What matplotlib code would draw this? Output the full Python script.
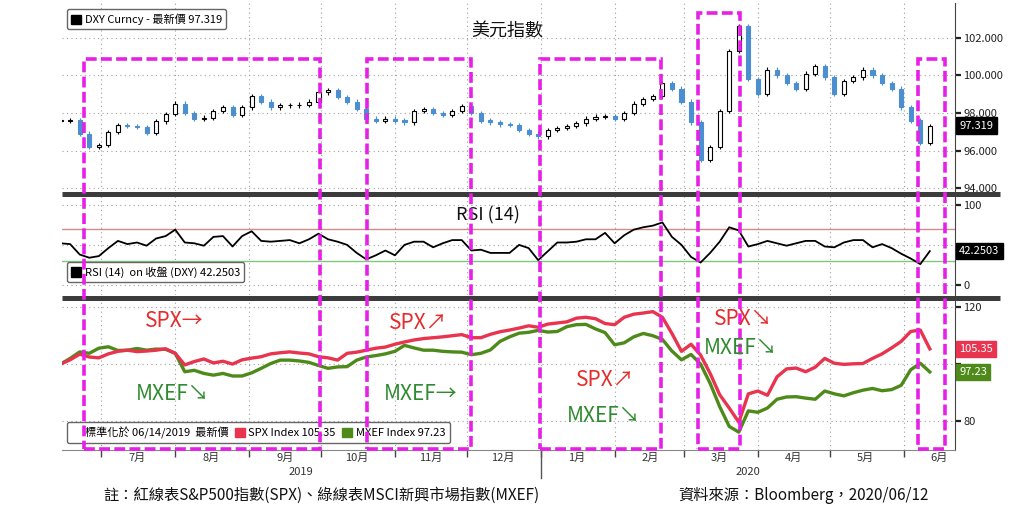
import numpy as np
import pandas as pd
import matplotlib
matplotlib.use('Agg')
import matplotlib.pyplot as plt
import matplotlib.dates as mdates
import matplotlib.ticker as mticker
from matplotlib.patches import Rectangle, Patch
from matplotlib.lines import Line2D

plt.rcParams['font.family'] = ['Noto Sans CJK TC', 'DejaVu Sans']

# ---------------- data ----------------
dates = pd.date_range('2019-06-14', '2020-06-12', freq='4D')

dxy_close = [97.6, 97.6, 96.9, 96.2, 96.3, 97.0, 97.35, 97.3, 97.25, 96.95,
             97.55, 97.95, 98.5, 98.0, 97.7, 97.75, 98.1, 98.3, 97.9, 98.3,
             98.9, 98.6, 98.3, 98.4, 98.4, 98.45, 98.6, 99.1, 99.2, 98.85,
             98.6, 98.2, 97.7, 97.6, 97.7, 97.6, 97.5, 98.1, 98.2, 98.0,
             97.9, 98.1, 98.35, 98.0, 97.6, 97.5, 97.4, 97.35, 97.1, 96.9,
             96.75, 97.1, 97.2, 97.3, 97.45, 97.7, 97.8, 97.85, 97.7, 98.0,
             98.5, 98.75, 98.9, 99.6, 99.3, 98.6, 97.5, 95.5, 96.2, 98.1,
             101.3, 102.6, 99.8, 99.0, 100.3, 100.0, 99.6, 99.3, 100.1, 100.5,
             99.9, 99.0, 99.7, 99.9, 100.3, 100.0, 99.6, 99.3, 98.3, 97.6,
             96.4, 97.32]

rsi_values = [52, 51, 38, 34, 36, 46, 55, 51, 53, 49,
              58, 61, 69, 53, 52, 49, 60, 61, 48, 61,
              67, 55, 54, 55, 56, 52, 57, 64, 57, 54,
              50, 40, 32, 37, 43, 37, 50, 54, 54, 47,
              52, 56, 56, 43, 44, 40, 40, 40, 50, 46,
              31, 42, 53, 53, 54, 57, 57, 65, 52, 62,
              69, 72, 74, 78, 60, 50, 35, 28, 40, 54,
              72, 68, 48, 51, 55, 52, 49, 52, 55, 55,
              48, 47, 53, 56, 56, 47, 51, 46, 39, 33,
              26, 42.25]

spx_values = [100.0, 101.5, 103.5, 102.5, 102.2, 103.6, 104.5, 104.9, 104.4, 104.6,
              104.9, 105.4, 103.8, 99.7, 100.9, 101.8, 100.4, 101.0, 100.0, 101.5,
              102.1, 102.6, 103.6, 104.0, 104.3, 103.9, 103.6, 102.6, 102.2, 101.4,
              103.8, 104.2, 104.9, 105.6, 106.0, 107.0, 107.8, 108.5, 109.0, 109.3,
              109.6, 110.0, 110.4, 109.3, 109.3, 110.5, 111.4, 112.0, 112.7, 113.5,
              113.0, 114.1, 114.5, 114.9, 116.2, 116.5, 116.0, 114.3, 113.9, 116.5,
              117.6, 118.0, 118.5, 116.5, 110.8, 104.5, 107.0, 103.2, 96.7, 89.2,
              84.5, 79.5, 89.5, 90.5, 89.0, 95.5, 98.3, 98.6, 97.3, 98.9,
              102.0, 100.3, 99.9, 100.1, 100.2, 102.0, 103.6, 105.7, 108.0, 111.5,
              112.0, 105.35]

mxef_values = [100.0, 102.0, 104.3, 103.8, 105.6, 106.1, 104.8, 104.9, 105.5, 104.9,
               105.3, 105.2, 103.8, 97.3, 97.8, 96.7, 96.1, 96.7, 95.8, 95.8,
               96.9, 98.5, 100.2, 101.4, 101.4, 101.1, 100.6, 99.5, 98.5, 99.0,
               99.1, 101.4, 102.5, 103.0, 103.6, 104.5, 106.6, 105.7, 104.9, 104.9,
               104.5, 104.3, 104.2, 103.3, 103.8, 105.0, 108.0, 109.6, 110.9, 111.2,
               111.9, 111.3, 111.5, 113.2, 113.9, 114.0, 112.4, 111.1, 106.8, 107.5,
               109.6, 110.8, 110.0, 108.7, 104.6, 101.5, 103.4, 100.0, 93.2, 85.0,
               78.0, 76.0, 83.5, 83.0, 84.5, 87.6, 88.4, 88.5, 88.0, 87.6,
               90.5, 89.5, 88.8, 89.9, 90.8, 91.4, 90.6, 91.0, 92.5, 98.0,
               100.3, 97.23]

month_labels = ['7月', '8月', '9月', '10月', '11月', '12月',
                '1月', '2月', '3月', '4月', '5月', '6月']
year_labels = ['2019', '2020']
dxy_ticks = [94, 96, 98, 100, 102]
rsi_ticks = [0, 50, 100]
norm_ticks = [80, 100, 120]
rsi_upper, rsi_lower = 70, 30
dxy_last, rsi_last, spx_last, mxef_last = 97.319, 42.2503, 105.35, 97.23

# ---------------- layout ----------------
W, H = 1024, 512
fig = plt.figure(figsize=(W / 100, H / 100), dpi=100)
fig.patch.set_facecolor('white')


def frac(l, t, r, b):
    return [l / W, 1 - b / H, (r - l) / W, (b - t) / H]


ax1 = fig.add_axes(frac(62, 3, 955, 191))
ax2 = fig.add_axes(frac(62, 196, 955, 295))
ax3 = fig.add_axes(frac(62, 300, 955, 450))

xd = mdates.date2num(dates)
px_day = 2.388
xlim = (xd[0] + (62 - 60.6) / px_day, xd[0] + (955 - 60.6) / px_day)

RED = '#e8344e'
GREEN = '#4e8a1a'
BLUE = '#4b8fd1'
grid_kw = dict(color='#a0a0a0', linestyle=(0, (1, 3)), lw=0.8)


def style(ax, yt, ylim, fmt, hidden=()):
    ax.set_xlim(xlim)
    ax.set_ylim(ylim)
    ax.yaxis.tick_right()
    ax.set_yticks(yt)
    ax.yaxis.set_major_formatter(mticker.FuncFormatter(
        lambda v, p: '' if v in hidden else fmt % v))
    for s in ['top', 'left', 'bottom']:
        ax.spines[s].set_visible(False)
    ax.spines['right'].set_color('#444444')
    ax.xaxis.set_major_locator(mdates.MonthLocator(bymonthday=1))
    ax.grid(True, which='major', **grid_kw)
    ax.tick_params(axis='y', direction='out', length=4, width=1.6,
                   labelsize=8, colors='#222222', pad=2)
    ax.tick_params(axis='x', which='both', length=0, labelbottom=False)
    ax.set_axisbelow(True)


# tick labels hidden behind the last-value tags in the reference
style(ax1, dxy_ticks, (93.85, 103.85), '%.3f')
style(ax2, rsi_ticks, (-12.5, 111), '%d', hidden=(50,))
style(ax3, norm_ticks, (69.7, 122.6), '%d', hidden=(100,))

# ---- DXY candles ----
close = np.array(dxy_close)
opens = np.concatenate([[close[0]], close[:-1]])
lo = np.minimum(opens, close)
hi = np.maximum(opens, close)
up = close >= opens
wick = 0.12
body = np.maximum(hi - lo, 0.05)
ax1.vlines(xd[up], lo[up] - wick, hi[up] + wick, color='black', lw=0.8, zorder=2)
ax1.vlines(xd[~up], lo[~up] - wick, hi[~up] + wick, color=BLUE, lw=0.8, zorder=2)
ax1.bar(xd[up], body[up], bottom=lo[up], width=1.7, facecolor='white',
        edgecolor='black', lw=0.8, zorder=3)
ax1.bar(xd[~up], body[~up], bottom=lo[~up], width=1.7, facecolor=BLUE,
        edgecolor=BLUE, lw=0.8, zorder=3)

ax1.text(0.499, 0.85, '美元指數', transform=ax1.transAxes, ha='center',
         va='center', fontsize=13, color='#111111')

# ---- RSI ----
ax2.axhline(rsi_upper, color='#d88a8a', lw=1)
ax2.axhline(rsi_lower, color='#7cc87c', lw=1)
ax2.plot(xd, rsi_values, color='black', lw=1.3, zorder=3)
ax2.text(0.477, 0.8, 'RSI (14)', transform=ax2.transAxes, ha='center',
         va='center', fontsize=13, color='#111111')

# ---- SPX / MXEF ----
ax3.plot(xd, mxef_values, color=GREEN, lw=2.4, zorder=3)
ax3.plot(xd, spx_values, color=RED, lw=2.4, zorder=4)
ax3.spines['bottom'].set_visible(True)
ax3.spines['bottom'].set_color('#888888')
mids = pd.date_range('2019-07-01', periods=12, freq='MS') + pd.Timedelta(days=15)
ax3.xaxis.set_minor_locator(mticker.FixedLocator(mdates.date2num(mids)))
ax3.xaxis.set_minor_formatter(mticker.FixedFormatter(month_labels))
ax3.tick_params(axis='x', which='major', length=5, width=1, color='#444444',
                labelbottom=False)
ax3.tick_params(axis='x', which='minor', length=0, labelbottom=True,
                labelsize=8, colors='#333333', pad=2)
jan1 = mdates.date2num(pd.Timestamp('2020-01-01'))
for xm, lab in zip([(xlim[0] + jan1) / 2, (jan1 + xlim[1]) / 2], year_labels):
    ax3.annotate(lab, xy=(xm, 0), xycoords=('data', 'axes fraction'),
                 xytext=(0, -16), textcoords='offset points', ha='center',
                 va='center', fontsize=8, color='#333333')
ax3.axvline(jan1, ymin=-28 / 150, ymax=0, color='#555555', lw=1, clip_on=False)


# ---- last value labels ----
def last_label(ax, val, txt, fc):
    ax.annotate(txt, xy=(1, val), xycoords=('axes fraction', 'data'),
                xytext=(3, 0), textcoords='offset points', ha='left', va='center',
                fontsize=8, color='white', zorder=6, annotation_clip=False,
                bbox=dict(boxstyle='square,pad=0.3', fc=fc, ec=fc))


last_label(ax1, dxy_last, f'{dxy_last:.3f}', 'black')
last_label(ax2, rsi_last, f'{rsi_last:.4f}', 'black')
last_label(ax3, spx_last, f'{spx_last:.2f}', RED)
last_label(ax3, mxef_last, f'{mxef_last:.2f}', GREEN)

# ---- legends ----
leg_kw = dict(bbox_transform=fig.transFigure, fontsize=8, handlelength=0.9,
              handleheight=0.9, handletextpad=0.3, borderpad=0.4,
              borderaxespad=0, fancybox=True, framealpha=1, edgecolor='#666666')
fig.legend(handles=[Patch(fc='black', ec='black')],
           labels=[f'DXY Curncy - 最新價 {dxy_last:.3f}'],
           loc='upper left', bbox_to_anchor=(67 / W, 1 - 9 / H), **leg_kw)
fig.legend(handles=[Patch(fc='black', ec='black')],
           labels=[f'RSI (14)  on 收盤 (DXY) {rsi_last:.4f}'],
           loc='upper left', bbox_to_anchor=(67 / W, 1 - 262 / H), **leg_kw)
fig.legend(handles=[Patch(fc='none', ec='none'), Patch(fc=RED, ec=RED),
                    Patch(fc=GREEN, ec=GREEN)],
           labels=['標準化於 06/14/2019  最新價', f'SPX Index {spx_last:.2f}',
                   f'MXEF Index {mxef_last:.2f}'],
           ncol=3, columnspacing=0.6,
           loc='lower left', bbox_to_anchor=(67 / W, 1 - 443 / H), **leg_kw)

# ---- panel separators ----
for yy in (193.5, 297.5):
    fig.add_artist(Line2D([62 / W, 1000 / W], [1 - yy / H] * 2, color='#3c3c3c',
                          lw=3.6, solid_capstyle='butt', zorder=5))

# ---- highlight boxes ----
boxes_px = [(84, 59, 320, 449), (367, 59, 471, 449), (540, 59, 661, 449),
            (698, 13, 740, 449), (918, 59, 945, 449)]
for l, t, r, b in boxes_px:
    fig.add_artist(Rectangle((l / W, 1 - b / H), (r - l) / W, (b - t) / H,
                             transform=fig.transFigure, fill=False,
                             edgecolor='#e620e6', lw=2.6,
                             linestyle=(0, (3, 1.2)), zorder=10))

# ---- annotations ----
TRED = '#e52b2b'
TGREEN = '#2e8b30'
notes = [('SPX→', 174, 321, TRED), ('MXEF↘', 173, 394, TGREEN),
         ('SPX↗', 418, 323, TRED), ('MXEF→', 421, 394, TGREEN),
         ('SPX↗', 605, 380, TRED), ('MXEF↘', 604, 416, TGREEN),
         ('SPX↘', 743, 319, TRED), ('MXEF↘', 741, 348, TGREEN)]
for txt, px, py, c in notes:
    fig.text(px / W, 1 - py / H, txt, ha='center', va='center', fontsize=15,
             color=c, zorder=11)

fig.text(103 / W, 1 - 495 / H, '註：紅線表S&P500指數(SPX)、綠線表MSCI新興市場指數(MXEF)',
         ha='left', va='center', fontsize=11, color='#111111')
fig.text(678 / W, 1 - 495 / H, '資料來源：Bloomberg，2020/06/12',
         ha='left', va='center', fontsize=11, color='#111111')

fig.savefig('out.png', dpi=100, facecolor='white')
